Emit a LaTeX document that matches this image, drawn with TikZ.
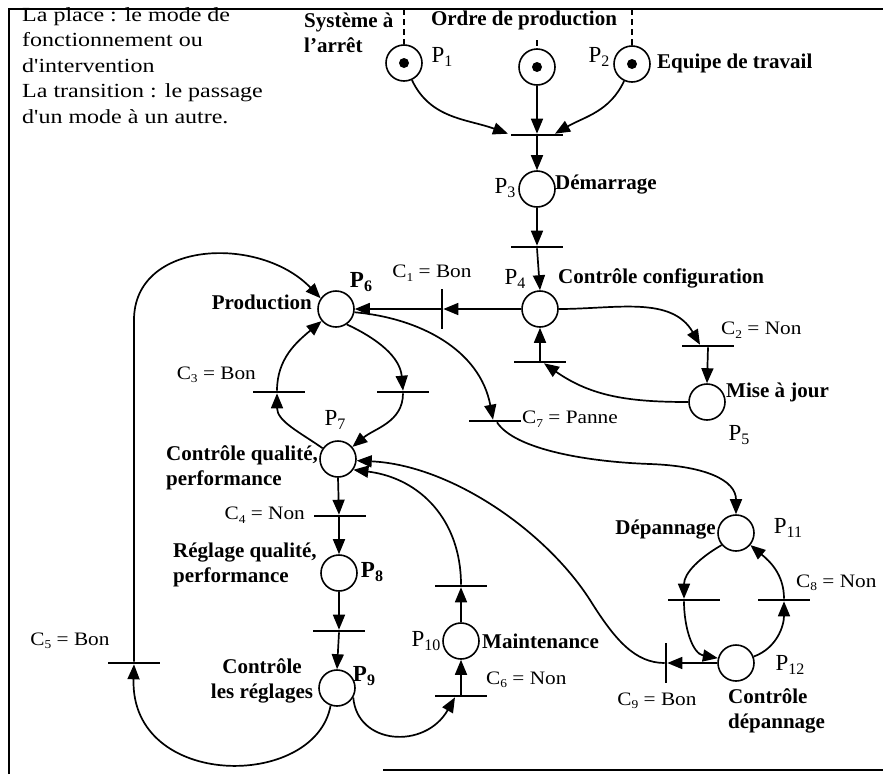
\documentclass[tikz,border=0pt]{standalone}
\usepackage{fontspec}
\setmainfont{Liberation Serif}
\newfontfamily\notefont[FakeStretch=1.2]{Liberation Serif}
\newfontfamily\condfont[FakeStretch=1.12]{Liberation Serif}
\usetikzlibrary{arrows.meta}

% place index and condition index
\newcommand\Pl[1]{P\raisebox{-0.45ex}{\fontsize{16}{16}\selectfont #1}}
\newcommand\Cn[1]{C\raisebox{-0.4ex}{\fontsize{12}{12}\selectfont #1}}

\tikzset{
  place/.style={circle, draw, line width=1.6pt, minimum size=36pt, inner sep=0pt},
  hbar/.style={rectangle, fill=black, minimum width=52pt, minimum height=2.2pt, inner sep=0pt},
  vbar/.style={rectangle, fill=black, minimum width=2.2pt, minimum height=40pt, inner sep=0pt},
  arc/.style={line width=1.7pt, -{Triangle[length=15pt,width=12pt]}},
  feed/.style={line width=1.4pt, dash pattern=on 6pt off 4pt},
  blab/.style={font=\fontsize{21}{25}\selectfont\bfseries, inner sep=0pt},
  plab/.style={font=\fontsize{23}{23}\selectfont, inner sep=0pt},
  pbold/.style={font=\fontsize{23}{23}\selectfont\bfseries, inner sep=0pt},
  clab/.style={font=\condfont\fontsize{19}{22}\selectfont, inner sep=0pt},
  note/.style={font=\notefont\fontsize{20}{25.5}\selectfont, align=left, anchor=north west, inner sep=0pt},
  frame/.style={line width=1.3pt}
}

\begin{document}
\begin{tikzpicture}[x=1pt, y=-1pt]
\useasboundingbox (0,0) rectangle (883,774);

% border of the figure
\coordinate (fa) at (9,774);
\coordinate (fb) at (9,9);
\coordinate (fc) at (883,9);
\coordinate (fd) at (383,770);
\coordinate (fe) at (883,770);
\draw[frame] (fa) -- (fb) -- (fc);
\draw[frame] (fd) -- (fe);

% legend
\node[note] (legend) at (22,7) {La place : le mode de\\fonctionnement ou\\d'intervention\\La transition : le passage\\d'un mode à un autre.};

% places
\node[place] (p1) at (404,63) {};
\node[place] (pm) at (537,67) {};
\node[place] (p2) at (632,64) {};
\node[place] (p3) at (537,189) {};
\node[place] (p4) at (540,309) {};
\node[place] (p5) at (707,402) {};
\node[place] (p6) at (336,309) {};
\node[place] (p7) at (338,459) {};
\node[place] (p8) at (339,573) {};
\node[place] (p9) at (337,688) {};
\node[place] (p10) at (461,641) {};
\node[place] (p11) at (736,533) {};
\node[place] (p12) at (736,663) {};

% tokens
\fill (p1.center) circle (5pt);
\fill (pm.center) circle (5pt);
\fill (p2.center) circle (5pt);

% transitions
\node[hbar] (t0) at (537,135) {};
\node[hbar] (t1) at (537,247) {};
\node[vbar] (c1) at (442,309) {};
\node[hbar] (c2) at (708,346) {};
\node[hbar] (t5) at (540,362) {};
\node[hbar] (t6) at (403,392) {};
\node[hbar] (c3) at (279,392) {};
\node[hbar] (c7) at (495,421) {};
\node[hbar] (c4) at (340,516) {};
\node[hbar] (t8) at (339,631) {};
\node[hbar] (c5) at (134,663) {};
\node[hbar] (c6) at (461,696) {};
\node[hbar] (t10) at (461,586) {};
\node[hbar] (tl) at (694,600) {};
\node[hbar] (tr) at (784,600) {};
\node[vbar] (c9) at (666,663) {};

% external orders
\coordinate (e1) at (404,9);
\coordinate (e2) at (632,9);
\coordinate (em) at (537,40);
\draw[feed] (e1) -- (p1.north);
\draw[feed] (e2) -- (p2.north);
\draw[feed] (em) -- (pm.north);

% start-up sequence
\draw[arc] (p1.295) to[out=-65,in=160] ([xshift=-29pt]t0.north);
\draw[arc] (pm.south) -- (t0.north);
\draw[arc] (p2.245) to[out=-115,in=30] ([xshift=18pt]t0.north);
\draw[arc] (t0.south) -- (p3.north);
\draw[arc] (p3.south) -- (t1.north);
\draw[arc] (t1.south) -- (p4.north);

% configuration check
\draw[arc] (p4.west) -- (c1.east);
\draw[arc] (c1.west) -- (p6.east);
\draw[arc] (p4.east) to[out=0,in=120] ([xshift=-8pt]c2.north);
\draw[arc] (c2.south) -- (p5.north);
\draw[arc] (p5.west) to[out=180,in=-35] ([xshift=4pt]t5.south);
\draw[arc] (t5.north) -- (p4.south);

% production / quality loop
\draw[arc] (p6.-55) to[out=-25,in=95] (t6.north);
\draw[arc] (t6.south) to[out=-90,in=40] (p7.40);
\draw[arc] (p7.145) to[out=145,in=-90] ([xshift=-2pt]c3.south);
\draw[arc] ([xshift=-2pt]c3.north) to[out=90,in=220] (p6.220);

% breakdown branch
\draw[arc] (p6.-10) .. controls (420,318) and (480,350) .. ([xshift=-2pt]c7.north);
\draw[arc] ([xshift=2pt]c7.south) .. controls (515,450) and (590,462) .. (650,464)
  .. controls (705,466) and (736,480) .. (p11.north);

% adjustment sequence
\draw[arc] (p7.south) -- ([xshift=-1pt]c4.north);
\draw[arc] ([xshift=-1pt]c4.south) -- (p8.north);
\draw[arc] (p8.south) -- (t8.north);
\draw[arc] (t8.south) -- (p9.north);
\draw[arc] (p9.250) .. controls (315,790) and (130,790) .. (c5.south);
\draw[arc] (c5.north) -- (134,320) .. controls (134,240) and (260,235) .. (p6.145);

% maintenance
\draw[arc] (p9.-30) .. controls (357,745) and (425,750) .. ([xshift=-6pt]c6.south);
\draw[arc] (c6.north) -- (p10.south);
\draw[arc] (p10.north) -- (t10.south);
\draw[arc] (t10.north) .. controls (461,520) and (420,478) .. (p7.-35);

% repair loop
\draw[arc] (p11.220) to[out=210,in=90] ([xshift=-10pt]tl.north);
\draw[arc] ([xshift=-10pt]tl.south) to[out=-90,in=170] (p12.165);
\draw[arc] (p12.20) to[out=20,in=-90] (tr.south);
\draw[arc] (tr.north) to[out=90,in=-40] (p11.-40);
\draw[arc] (p12.west) -- (c9.east);
\draw[arc] (c9.west) .. controls (635,663) and (615,640) .. (590,600)
  .. controls (545,530) and (450,465) .. (p7.-5);

% place names
\node[blab, align=left, anchor=north west] (n1) at (304,13) {Système à\\l'arrêt};
\node[blab] (n0) at (524,20) {Ordre de production};
\node[blab, anchor=west] (n2) at (657,63) {Equipe de travail};
\node[blab, anchor=west] (n3) at (555,185) {Démarrage};
\node[blab, anchor=west] (n4) at (558,278) {Contrôle configuration};
\node[blab, anchor=west] (n5) at (726,392) {Mise à jour};
\node[blab, anchor=east] (n6) at (312,302) {Production};
\node[blab, align=left, anchor=north west] (n7) at (166,445) {Contrôle qualité,\\performance};
\node[blab, align=left, anchor=north west] (n8) at (173,543) {Réglage qualité,\\performance};
\node[blab, align=center, anchor=north] (n9) at (262,658) {Contrôle\\les réglages};
\node[blab, anchor=west] (n10) at (482,641) {Maintenance};
\node[blab, anchor=east] (n11) at (716,530) {Dépannage};
\node[blab, align=left, anchor=north west] (n12) at (728,688) {Contrôle\\dépannage};

% place indices
\node[plab] (l1) at (442,57) {\Pl{1}};
\node[plab] (l2) at (599,57) {\Pl{2}};
\node[plab] (l3) at (505,188) {\Pl{3}};
\node[plab] (l4) at (515,279) {\Pl{4}};
\node[plab] (l5) at (739,435) {\Pl{5}};
\node[pbold] (l6) at (361,282) {\Pl{6}};
\node[plab] (l7) at (335,420) {\Pl{7}};
\node[pbold] (l8) at (372,572) {\Pl{8}};
\node[pbold] (l9) at (364,676) {\Pl{9}};
\node[plab] (l10) at (426,641) {\Pl{10}};
\node[plab] (l11) at (788,528) {\Pl{11}};
\node[plab] (l12) at (790,665) {\Pl{12}};

% conditions
\node[clab] (k1) at (432,273) {\Cn{1} = Bon};
\node[clab, anchor=west] (k2) at (721,330) {\Cn{2} = Non};
\node[clab, anchor=east] (k3) at (256,375) {\Cn{3} = Bon};
\node[clab, anchor=west] (k7) at (522,419) {\Cn{7} = Panne};
\node[clab, anchor=east] (k4) at (305,515) {\Cn{4} = Non};
\node[clab] (k5) at (70,641) {\Cn{5} = Bon};
\node[clab, anchor=west] (k6) at (486,680) {\Cn{6} = Non};
\node[clab, anchor=west] (k8) at (796,583) {\Cn{8} = Non};
\node[clab] (k9) at (657,701) {\Cn{9} = Bon};
\end{tikzpicture}
\end{document}
